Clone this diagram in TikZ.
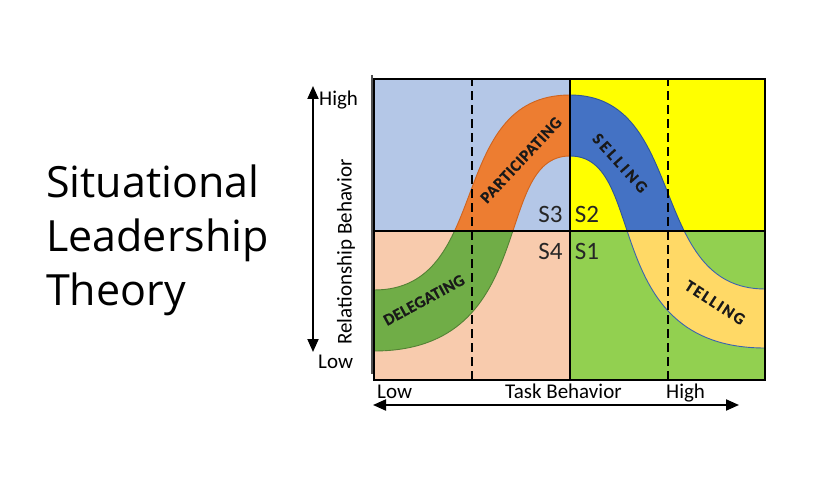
\documentclass[tikz,border=0pt]{standalone}
\usepackage{fontspec}
\setmainfont{Carlito}
\newfontfamily\titlefont{Open Sans}
\newfontfamily\bandfont[FakeBold=0.6]{Carlito Bold}
\usetikzlibrary{arrows.meta}
\definecolor{tlbg}{HTML}{B4C7E7}
\definecolor{trbg}{HTML}{FFFF00}
\definecolor{blbg}{HTML}{F8CBAD}
\definecolor{brbg}{HTML}{92D050}
\definecolor{orangeband}{HTML}{ED7D31}
\definecolor{orangeedge}{HTML}{D0641E}
\definecolor{blueband}{HTML}{4472C4}
\definecolor{blueedge}{HTML}{2F5597}
\definecolor{greenband}{HTML}{70AD47}
\definecolor{greenedge}{HTML}{548235}
\definecolor{tellband}{HTML}{FFD966}
\definecolor{telledge}{HTML}{3A62B0}
\definecolor{axisgray}{HTML}{505050}
\newcommand\bandpiece[4]{%
  \begin{scope}
    \clip #1 rectangle #2;
    \filldraw[fill=#3,draw=#4,line width=0.9]
      (374,190) .. controls (494,190) and (445,385) .. (570,385)
      .. controls (688,385) and (647,191) .. (765,191)
      -- (765,132) .. controls (598,132) and (649,324) .. (570,324)
      .. controls (491,324) and (541,129) .. (374,129) -- cycle;
  \end{scope}}
\tikzset{
  lbl/.style={font=\fontsize{21}{24}\selectfont, text=black, inner sep=0pt},
  slbl/.style={font=\fontsize{25}{28}\selectfont, text=black!85, inner sep=0pt},
  bandlbl/.style={font=\bandfont\fontsize{16.5}{18}\selectfont, text=black!90, inner sep=0pt},
  titlelbl/.style={font=\titlefont\fontsize{43}{50}\selectfont, text=black, inner sep=0pt, anchor=base west},
  axistip/.tip={Triangle[length=13pt,width=11pt]},
  axisarrow/.style={line width=2pt, axistip-axistip},
  dashline/.style={line width=2.2pt, dash pattern=on 9pt off 5pt},
  gridline/.style={line width=2.2pt, black}
}
\begin{document}
\begin{tikzpicture}[x=1pt,y=1pt]
\useasboundingbox (0,0) rectangle (820,480);
\fill[white] (0,0) rectangle (820,480);

% title
\node[titlelbl] (t1) at (46,282) {Situational};
\node[titlelbl] (t2) at (46,228) {Leadership};
\node[titlelbl] (t3) at (46,174) {Theory};

% quadrant backgrounds
\fill[tlbg] (374,249) rectangle (570,401);
\fill[trbg] (570,249) rectangle (765,401);
\fill[blbg] (374,100) rectangle (570,249);
\fill[brbg] (570,100) rectangle (765,249);

% band pieces
\bandpiece{(374,249)}{(570,401)}{orangeband}{orangeedge}
\bandpiece{(570,249)}{(765,401)}{blueband}{blueedge}
\bandpiece{(374,100)}{(570,249)}{greenband}{greenedge}
\bandpiece{(570,100)}{(765,249)}{tellband}{telledge}

% band labels
\node[bandlbl, rotate=47] (part) at (521,320) {\addfontfeatures{LetterSpace=4}PARTICIPATING};
\node[bandlbl, rotate=-48] (sell) at (620,317) {\addfontfeatures{LetterSpace=18}SELLING};
\node[bandlbl, rotate=28.5] (dele) at (424,180) {\addfontfeatures{LetterSpace=2}DELEGATING};
\node[bandlbl, rotate=-33] (tell) at (715,177.5) {\addfontfeatures{LetterSpace=12}TELLING};

% dashed lines
\draw[dashline] (472,100) -- (472,401);
\draw[dashline] (668,100) -- (668,401);

% grid and border
\draw[gridline] (570,100) -- (570,401);
\draw[gridline] (374,249) -- (765,249);
\draw[line width=1.6pt, axisgray] (372,405) -- (372,106);
\draw[gridline] (374,100) rectangle (765,401);

% quadrant labels
\node[slbl] (s3) at (550.5,266) {S3};
\node[slbl] (s2) at (587,266) {S2};
\node[slbl] (s4) at (550.5,229) {S4};
\node[slbl] (s1) at (587,229) {S1};

% axes
\coordinate (ytop) at (313,394);
\coordinate (ybot) at (313,128);
\draw[axisarrow] (ytop) -- (ybot);
\coordinate (xleft) at (373,75);
\coordinate (xright) at (739,75);
\draw[axisarrow] (xleft) -- (xright);

\node[lbl, anchor=west] (yhigh) at (319,380) {High};
\node[lbl, anchor=west] (ylow) at (318,118) {Low};
\node[lbl, rotate=90] (ytitle) at (346,228) {Relationship Behavior};
\node[lbl, anchor=base west] (xlow) at (377,82) {Low};
\node[lbl, anchor=base west] (xtitle) at (505,82) {Task Behavior};
\node[lbl, anchor=base west] (xhigh) at (666,82) {High};
\end{tikzpicture}
\end{document}
